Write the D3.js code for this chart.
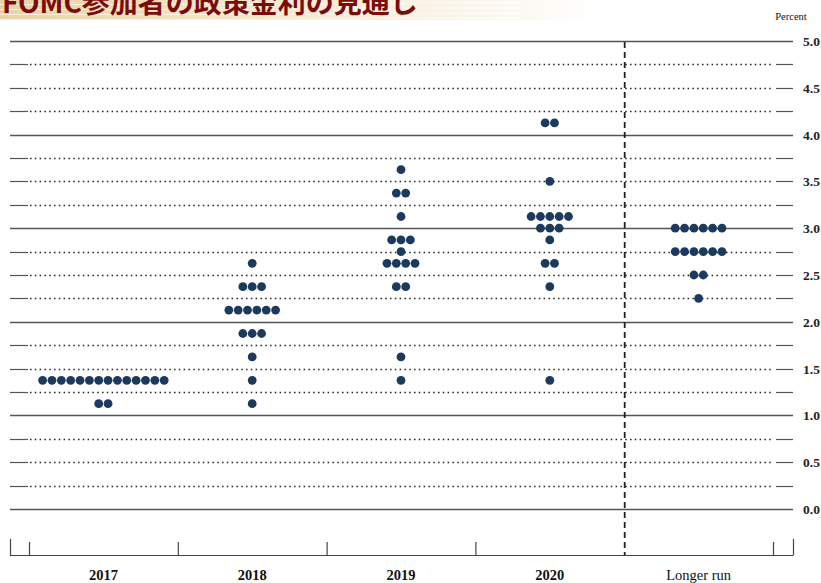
<!DOCTYPE html>
<html>
<head>
<meta charset="utf-8">
<script src="https://cdn.jsdelivr.net/npm/d3@7"></script>
<style>
  body { margin:0; background:#fff; overflow:hidden; }
  svg { display:block; }
  .axis-label { font-family:"Liberation Serif","DejaVu Serif",serif; fill:#111; }
</style>
</head>
<body>
<div id="chart"></div>
<script>
// categories along the bottom
var categories = ["2017", "2018", "2019", "2020", "Longer run"];
// one list per category: [rate, number of participants]
var dots2017 = [[1.375, 14], [1.125, 2]];
var dots2018 = [[2.625, 1], [2.375, 3], [2.125, 6], [1.875, 3], [1.625, 1], [1.375, 1], [1.125, 1]];
var dots2019 = [[3.625, 1], [3.375, 2], [3.125, 1], [2.875, 3], [2.75, 1], [2.625, 4], [2.375, 2], [1.625, 1], [1.375, 1]];
var dots2020 = [[4.125, 2], [3.5, 1], [3.125, 5], [3.0, 3], [2.875, 1], [2.625, 2], [2.375, 1], [1.375, 1]];
var dotsLonger = [[3.0, 6], [2.75, 6], [2.5, 2], [2.25, 1]];
var seriesDots = [dots2017, dots2018, dots2019, dots2020, dotsLonger];
var yTicks = [0, 0.5, 1, 1.5, 2, 2.5, 3, 3.5, 4, 4.5, 5];
var title = "FOMC参加者の政策金利の見通し";

var width = 821, height = 583;
var svg = d3.select("#chart").append("svg")
  .attr("width", width).attr("height", height);

//title band with the gold stripes fading out to the right
var defs = svg.append("defs");
var grad = defs.append("linearGradient").attr("id", "band").attr("x1", 0).attr("x2", 1).attr("y1", 0).attr("y2", 0);
grad.append("stop").attr("offset", "0%").attr("stop-color", "#e9d3a6");
grad.append("stop").attr("offset", "45%").attr("stop-color", "#f4e7cc");
grad.append("stop").attr("offset", "100%").attr("stop-color", "#ffffff");
svg.append("rect").attr("x", 0).attr("y", 0).attr("width", 600).attr("height", 20).attr("fill", "url(#band)");
[2, 7, 12, 17].forEach(function (sy, i) {
  svg.append("rect").attr("x", 0).attr("y", sy).attr("width", 520).attr("height", 2)
    .attr("fill", "url(#band)").style("opacity", 0.9);
  svg.append("rect").attr("x", 0).attr("y", sy + 2).attr("width", 420 - i * 20).attr("height", 1)
    .attr("fill", "#fbf5e8").style("opacity", 0.8);
});
svg.append("text")
  .attr("x", 2).attr("y", 13)
  .style("font-family", "'Noto Sans CJK JP', sans-serif")
  .style("font-weight", "bold")
  .style("font-size", "28px")
  .style("fill", "#7a0c0c")
  .text(title);

//scales
var left = 10, right = 793;
var x = d3.scaleBand().domain(categories).range([29, 773]);
var y = d3.scaleLinear().domain([0, 5]).range([509, 41]);

//gridlines every 0.25, solid on whole numbers, dotted in between with small solid ends
var grid = svg.append("g");
d3.range(0, 5.01, 0.25).forEach(function (v) {
  var yy = Math.round(y(v)) + 0.5;
  if (v % 1 === 0) {
    grid.append("line").attr("x1", left).attr("x2", right).attr("y1", yy).attr("y2", yy)
      .attr("stroke", "#555").attr("stroke-width", 1.3);
  } else {
    grid.append("line").attr("x1", left).attr("x2", 28).attr("y1", yy).attr("y2", yy)
      .attr("stroke", "#555").attr("stroke-width", 1.2);
    grid.append("line").attr("x1", 30).attr("x2", 774).attr("y1", yy).attr("y2", yy)
      .attr("stroke", "#222").attr("stroke-width", 1.4).attr("stroke-dasharray", "1.5,3.3");
    grid.append("line").attr("x1", 776).attr("x2", right).attr("y1", yy).attr("y2", yy)
      .attr("stroke", "#555").attr("stroke-width", 1.2);
  }
});

//right side labels
svg.selectAll(".ylab").data(yTicks).enter().append("text")
  .attr("class", "axis-label")
  .attr("x", 803).attr("y", function (d) { return y(d) + 5; })
  .style("font-size", "13.5px").style("font-weight", "bold")
  .style("fill", "#222")
  .text(function (d) { return d3.format(".1f")(d); });
svg.append("text").attr("class", "axis-label")
  .attr("x", 791).attr("y", 20).attr("text-anchor", "middle")
  .style("font-size", "10.5px")
  .text("Percent");

//bottom axis
var baseY = 555.5;
svg.append("line").attr("x1", left).attr("x2", right).attr("y1", baseY).attr("y2", baseY)
  .attr("stroke", "#444").attr("stroke-width", 1.2);
[left, right].forEach(function (tx) {
  svg.append("line").attr("x1", tx + 0.5).attr("x2", tx + 0.5).attr("y1", 539).attr("y2", baseY)
    .attr("stroke", "#444").attr("stroke-width", 1.2);
});
categories.forEach(function (c, i) {
  var bx = x(c);
  if (i !== 4) {
    svg.append("line").attr("x1", bx + 0.5).attr("x2", bx + 0.5).attr("y1", 542).attr("y2", baseY)
      .attr("stroke", "#444").attr("stroke-width", 1.2);
  }
  svg.append("text").attr("class", "axis-label")
    .attr("x", bx + x.bandwidth() / 2).attr("y", 580)
    .attr("text-anchor", "middle")
    .style("font-size", "14.5px")
    .style("font-weight", i < 4 ? "bold" : "normal")
    .text(c);
});
svg.append("line")
  .attr("x1", x(categories[categories.length - 1]) + x.bandwidth() + 0.5)
  .attr("x2", x(categories[categories.length - 1]) + x.bandwidth() + 0.5)
  .attr("y1", 542).attr("y2", baseY).attr("stroke", "#444").attr("stroke-width", 1.2);

//dashed separator before longer run
var sepX = x("Longer run") + 0.5;
svg.append("line").attr("x1", sepX).attr("x2", sepX).attr("y1", 42).attr("y2", baseY)
  .attr("stroke", "#222").attr("stroke-width", 1.8).attr("stroke-dasharray", "6,4");

//dots
var spacing = 9.35;
var dotG = svg.append("g");
seriesDots.forEach(function (rows, ci) {
  var cx = x(categories[ci]) + x.bandwidth() / 2;
  rows.forEach(function (r) {
    var n = r[1];
    d3.range(n).forEach(function (k) {
      dotG.append("circle")
        .attr("cx", cx + (k - (n - 1) / 2) * spacing)
        .attr("cy", y(r[0]))
        .attr("r", 4.4)
        .attr("fill", "#1c3a5e");
    });
  });
});
</script>
</body>
</html>
